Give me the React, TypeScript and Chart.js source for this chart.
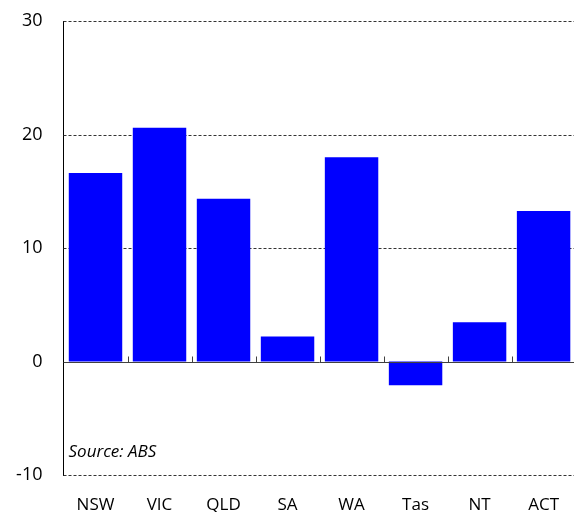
import { useEffect, useRef } from "react";
import { Chart, registerables } from "chart.js";

Chart.register(...registerables);

const categories = ["NSW", "VIC", "QLD", "SA", "WA", "Tas", "NT", "ACT"];
const values = [16.6, 20.6, 14.35, 2.2, 18.0, -2.1, 3.45, 13.25];
const yMin = -10;
const yMax = 30;
const yStep = 10;
const gridValues = [-10, 10, 20, 30];
const sourceNote = "Source: ABS";

const FONT = "'Open Sans', sans-serif";

const decorPlugin = {
  id: "decor",
  beforeDatasetsDraw(chart: any) {
    const { ctx, chartArea } = chart;
    const y = chart.scales.y;
    ctx.save();
    ctx.strokeStyle = "#333";
    ctx.lineWidth = 1;
    ctx.setLineDash([3, 2]);
    for (const v of gridValues) {
      const py = Math.round(y.getPixelForValue(v)) + 0.5;
      ctx.beginPath();
      ctx.moveTo(chartArea.left, py);
      ctx.lineTo(chartArea.right, py);
      ctx.stroke();
    }
    ctx.restore();
  },
  afterDatasetsDraw(chart: any) {
    const { ctx, chartArea } = chart;
    const y = chart.scales.y;
    const x = chart.scales.x;
    ctx.save();
    const zy = Math.round(y.getPixelForValue(0)) + 0.5;
    ctx.strokeStyle = "#404040";
    ctx.lineWidth = 1;
    ctx.setLineDash([]);
    ctx.beginPath();
    ctx.moveTo(chartArea.left, zy);
    ctx.lineTo(chartArea.right, zy);
    ctx.stroke();
    for (let i = 0; i < categories.length - 1; i++) {
      const bx = Math.round((x.getPixelForTick(i) + x.getPixelForTick(i + 1)) / 2) + 0.5;
      ctx.beginPath();
      ctx.moveTo(bx, zy);
      ctx.lineTo(bx, zy - 6);
      ctx.stroke();
    }
    ctx.fillStyle = "#000";
    ctx.font = `italic 17px ${FONT}`;
    ctx.textAlign = "left";
    ctx.textBaseline = "alphabetic";
    ctx.fillText(sourceNote, chartArea.left + 5, chartArea.bottom - 18);
    ctx.restore();
  },
};

export default function App() {
  const ref = useRef<HTMLCanvasElement | null>(null);
  useEffect(() => {
    if (!ref.current) return;
    const chart = new Chart(ref.current, {
      type: "bar",
      data: {
        labels: categories,
        datasets: [
          {
            data: values,
            backgroundColor: "#0000FF",
            borderWidth: 0,
            barPercentage: 0.835,
            categoryPercentage: 1,
          },
        ],
      },
      options: {
        animation: false,
        responsive: true,
        maintainAspectRatio: false,
        layout: { padding: { top: 21, right: 0, bottom: 0, left: 0 } },
        plugins: { legend: { display: false }, tooltip: { enabled: false } },
        scales: {
          x: {
            grid: { display: false, drawTicks: false },
            border: { display: false },
            ticks: {
              color: "#000",
              font: { family: FONT, size: 17 },
              padding: 20,
              maxRotation: 0,
            },
            afterFit: (s: any) => {
              s.height = 37;
            },
          },
          y: {
            min: yMin,
            max: yMax,
            grid: { display: false, drawTicks: true, tickLength: 21 },
            border: { display: true, color: "#000", width: 1 },
            ticks: {
              stepSize: yStep,
              color: "#000",
              font: { family: FONT, size: 18 },
              padding: 0,
            },
            afterFit: (s: any) => {
              s.width = 63.5;
            },
          },
        },
      },
      plugins: [decorPlugin],
    });
    return () => chart.destroy();
  }, []);
  return (
    <div style={{ position: "absolute", left: 0, top: 0, width: 574, height: 512, overflow: "hidden" }}>
      <div style={{ position: "relative", width: 579, height: 512 }}>
        <canvas ref={ref} />
      </div>
    </div>
  );
}
